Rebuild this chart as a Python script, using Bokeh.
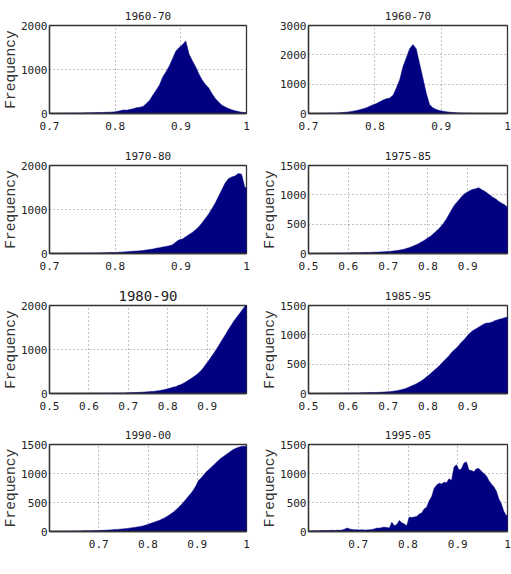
from bokeh.plotting import figure
from bokeh.layouts import column, row
from bokeh.models import Range1d, FixedTicker, Title
from bokeh.embed import file_html
from bokeh.resources import INLINE

# Histogram bin width shared by every panel
BIN = 0.005

# Panel titles, in reading order (left to right, top to bottom)
titles = ["1960-70", "1960-70", "1970-80", "1975-85",
          "1980-90", "1985-95", "1990-00", "1995-05"]

# First bin edge of each panel
bin_start = [0.70, 0.70, 0.70, 0.50, 0.50, 0.50, 0.60, 0.60]

# Counts per bin (bins of width BIN starting at bin_start)
counts_1960_70_a = [
    5, 5, 5, 6, 8, 8, 10, 10, 10, 12,
    12, 15, 15, 18, 20, 22, 25, 28, 30, 35,
    45, 60, 80, 75, 90, 110, 130, 140, 160, 230,
    300, 420, 530, 650, 830, 950, 1080, 1250, 1420, 1500,
    1560, 1650, 1350, 1200, 1060, 900, 760, 660, 580, 450,
    340, 260, 190, 150, 115, 85, 60, 45, 30, 20,
]
counts_1960_70_b = [
    5, 5, 8, 8, 10, 12, 15, 18, 20, 25,
    35, 45, 60, 80, 100, 130, 160, 200, 250, 300,
    340, 400, 460, 500, 530, 620, 870, 1150, 1600, 1900,
    2210, 2350, 2200, 1700, 1200, 700, 300, 200, 135, 100,
    80, 60, 45, 35, 25, 20, 15, 12, 10, 8,
    6, 5, 5, 4, 4, 3, 3, 2, 2, 2,
]
counts_1970_80 = [
    3, 3, 4, 4, 5, 5, 6, 6, 7, 8,
    9, 10, 11, 12, 13, 14, 16, 18, 20, 22,
    25, 30, 35, 40, 45, 50, 55, 60, 70, 80,
    90, 100, 120, 130, 145, 160, 175, 200, 260, 310,
    330, 380, 430, 480, 540, 610, 700, 800, 900, 1020,
    1150, 1300, 1450, 1600, 1700, 1740, 1760, 1820, 1800, 1500,
]
counts_1975_85 = [
    2, 2, 2, 3, 3, 3, 4, 4, 4, 5,
    5, 6, 6, 7, 7, 8, 8, 9, 9, 10,
    10, 11, 11, 12, 12, 13, 14, 15, 16, 17,
    18, 19, 20, 22, 23, 25, 27, 29, 31, 33,
    35, 38, 42, 46, 50, 55, 62, 70, 78, 88,
    100, 112, 125, 140, 155, 170, 190, 210, 230, 255,
    275, 300, 330, 360, 390, 420, 460, 500, 550, 600,
    660, 720, 780, 830, 870, 910, 950, 990, 1020, 1040,
    1060, 1080, 1090, 1100, 1110, 1120, 1100, 1080, 1060, 1040,
    1010, 990, 960, 940, 920, 890, 870, 850, 830, 800,
]
counts_1980_90 = [
    1, 1, 1, 1, 1, 2, 2, 2, 2, 2,
    2, 3, 3, 3, 3, 3, 4, 4, 4, 4,
    5, 5, 5, 6, 6, 6, 7, 7, 8, 8,
    9, 9, 10, 10, 11, 12, 12, 13, 14, 15,
    16, 18, 20, 22, 24, 26, 28, 31, 34, 37,
    40, 44, 48, 53, 58, 64, 72, 80, 90, 100,
    115, 125, 140, 150, 165, 185, 200, 220, 245, 270,
    300, 330, 360, 390, 420, 460, 500, 550, 610, 670,
    730, 790, 860, 920, 990, 1060, 1130, 1210, 1280, 1350,
    1430, 1500, 1570, 1640, 1700, 1760, 1820, 1880, 1940, 2000,
]
counts_1985_95 = [
    1, 1, 1, 2, 2, 2, 2, 3, 3, 3,
    3, 4, 4, 4, 5, 5, 5, 6, 6, 7,
    7, 8, 8, 9, 9, 10, 11, 12, 13, 14,
    15, 16, 17, 18, 19, 20, 22, 24, 26, 28,
    30, 34, 38, 43, 48, 55, 62, 72, 82, 95,
    110, 125, 140, 155, 170, 190, 210, 235, 260, 290,
    315, 345, 375, 405, 435, 465, 500, 535, 570, 605,
    640, 680, 720, 750, 780, 820, 860, 895, 930, 970,
    1010, 1040, 1070, 1090, 1110, 1130, 1150, 1170, 1190, 1200,
    1200, 1210, 1220, 1240, 1250, 1260, 1270, 1280, 1290, 1300,
]
counts_1990_00 = [
    3, 3, 4, 4, 5, 5, 6, 6, 7, 8,
    8, 9, 10, 11, 12, 13, 14, 15, 16, 17,
    18, 20, 22, 24, 27, 30, 33, 36, 40, 44,
    48, 53, 58, 64, 70, 76, 84, 92, 102, 115,
    130, 145, 160, 175, 190, 210, 230, 255, 280, 310,
    340, 380, 420, 460, 510, 560, 610, 660, 720, 790,
    880, 920, 970, 1020, 1060, 1100, 1140, 1180, 1220, 1260,
    1290, 1320, 1350, 1380, 1410, 1430, 1450, 1460, 1470, 1470,
]
counts_1995_05 = [
    10, 12, 12, 15, 14, 16, 15, 18, 17, 20,
    18, 22, 20, 25, 40, 60, 45, 35, 30, 32,
    28, 30, 25, 28, 30, 35, 45, 60, 55, 70,
    75, 70, 60, 160, 100, 120, 190, 150, 130, 100,
    250, 240, 250, 260, 300, 320, 390, 420, 530, 600,
    740, 800, 830, 820, 850, 840, 910, 880, 1110, 1150,
    1060, 1080, 1180, 1200, 1060, 1050, 1030, 1080, 1085, 1040,
    1000, 960, 880, 820, 770, 700, 565, 480, 350, 277,
]
counts = [counts_1960_70_a, counts_1960_70_b, counts_1970_80, counts_1975_85,
          counts_1980_90, counts_1985_95, counts_1990_00, counts_1995_05]

# Axis extents and ticks
x_limits = [(0.7, 1.0), (0.7, 1.0), (0.7, 1.0), (0.5, 1.0),
            (0.5, 1.0), (0.5, 1.0), (0.6, 1.0), (0.6, 1.0)]
x_ticks = [[0.7, 0.8, 0.9, 1.0]] * 3 + [[0.5, 0.6, 0.7, 0.8, 0.9]] * 3 + [[0.7, 0.8, 0.9, 1.0]] * 2
y_max = [2000, 3000, 2000, 1500, 2000, 1500, 1500, 1500]
y_ticks = [[0, 1000, 2000], [0, 1000, 2000, 3000], [0, 1000, 2000],
           [0, 500, 1000, 1500], [0, 1000, 2000],
           [0, 500, 1000, 1500], [0, 500, 1000, 1500], [0, 500, 1000, 1500]]
y_label = ["Frequency", "", "Frequency", "Frequency",
           "Frequency", "Frequency", "Frequency", "Frequency"]
title_size = ["11px", "11px", "11px", "11px", "14px", "11px", "11px", "11px"]

BAR = "#000080"
NUM_FONT = "DejaVu Sans Mono"
LABEL_FONT = "Liberation Mono"


def filled_outline(start, c):
    """Filled area under the bin counts, one vertex per bin centre."""
    n = len(c)
    xs = [start, start] + [start + (k + 0.5) * BIN for k in range(n)] + [start + n * BIN] * 2
    ys = [0, c[0]] + list(c) + [c[-1], 0]
    return xs, ys


def panel(i):
    left_col = (i % 2 == 0)
    last_row = (i >= 6)
    w = 255 if left_col else 256
    h = 154 if last_row else 140
    x0, x1 = x_limits[i]
    p = figure(width=w, height=h, output_backend="svg", toolbar_location=None,
               x_range=Range1d(x0, x1), y_range=Range1d(0, y_max[i]),
               min_border_left=47 if left_col else 53,
               min_border_right=9 if left_col else 4,
               min_border_top=24 if last_row else 25,
               min_border_bottom=43 if last_row else 27)
    p.background_fill_color = "white"
    p.border_fill_color = "white"
    p.outline_line_color = "#333333"
    p.outline_line_width = 1.3
    p.outline_line_alpha = 1

    p.title.text = titles[i]
    p.title.align = "center"
    p.title.text_font = NUM_FONT
    p.title.text_font_size = title_size[i]
    p.title.text_font_style = "normal"
    p.title.text_color = "#222222"
    p.title.standoff = 10 if i == 4 else 12

    if y_label[i]:
        p.add_layout(Title(text=y_label[i], align="center", standoff=0,
                           text_font=LABEL_FONT, text_font_size="14.5px",
                           text_line_height=0.8,
                           text_font_style="normal", text_color="#333333"), "left")

    xs, ys = filled_outline(bin_start[i], counts[i])
    p.patch(xs, ys, fill_color=BAR, line_color=BAR, line_width=0.5)

    p.xaxis.ticker = FixedTicker(ticks=x_ticks[i])
    p.xaxis.major_label_overrides = {1.0: "1"}
    p.yaxis.ticker = FixedTicker(ticks=y_ticks[i])
    for ax in (p.xaxis, p.yaxis):
        ax.major_tick_in = 0
        ax.major_tick_out = 0
        ax.minor_tick_line_color = None
        ax.major_tick_line_color = None
        ax.axis_line_color = "#333333"
        ax.axis_line_width = 1.3
        ax.major_label_text_font = NUM_FONT
        ax.major_label_text_font_size = "11px"
        ax.major_label_text_color = "#222222"
    p.xaxis.major_label_standoff = 8
    p.yaxis.major_label_standoff = 2

    for g in (p.xgrid, p.ygrid):
        g.grid_line_color = "#666666"
        g.grid_line_dash = "1 3"
        g.grid_line_width = 1
        g.grid_line_alpha = 0.8
    p.xgrid.ticker = FixedTicker(ticks=x_ticks[i])
    p.ygrid.ticker = FixedTicker(ticks=y_ticks[i])
    return p


panels = [panel(i) for i in range(8)]
layout = column(*[row(panels[2 * r], panels[2 * r + 1]) for r in range(4)])

with open("out.html", "w") as f:
    f.write(file_html(layout, INLINE))
